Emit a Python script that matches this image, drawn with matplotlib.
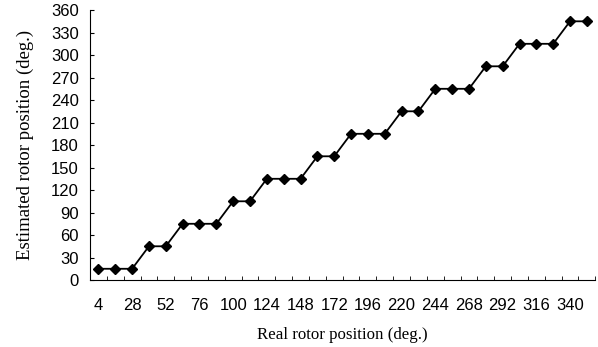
import matplotlib.pyplot as plt
import numpy as np

# Real rotor position categories (deg.) and estimated positions (deg.)
real_pos = [4, 16, 28, 40, 52, 64, 76, 88, 100, 112, 124, 136, 148, 160, 172,
            184, 196, 208, 220, 232, 244, 256, 268, 280, 292, 304, 316, 328, 340, 352]
est_pos = [15, 15, 15, 45, 45, 75, 75, 75, 105, 105, 135, 135, 135, 165, 165,
           195, 195, 195, 225, 225, 255, 255, 255, 285, 285, 315, 315, 315, 345, 345]

fig = plt.figure(figsize=(5.98, 3.47), dpi=100)
ax = fig.add_axes([0.1505, 0.193, 0.845, 0.778])

idx = np.arange(len(real_pos))
ax.plot(idx, est_pos, color="black", linewidth=1.3, marker="D", markersize=5.5)

ax.set_xlim(-0.5, len(real_pos) - 0.5)
ax.set_ylim(0, 360)
ax.set_yticks(np.arange(0, 361, 30))

ax.set_xticks(idx[::2])
ax.set_xticklabels([str(v) for v in real_pos[::2]])
ax.set_xticks(np.arange(-0.5, len(real_pos), 1), minor=True)
ax.tick_params(axis="x", which="major", length=0, pad=13)
ax.tick_params(axis="x", which="minor", direction="in", length=3)
ax.tick_params(axis="y", direction="in", length=3, pad=8)

for lab in ax.get_xticklabels() + ax.get_yticklabels():
    lab.set_fontfamily("Liberation Sans")
    lab.set_fontsize(12)

ax.spines["top"].set_visible(False)
ax.spines["right"].set_visible(False)

ax.set_xlabel("Real rotor position (deg.)", fontfamily="Liberation Serif",
              fontsize=12.2, labelpad=10)
ax.set_ylabel("Estimated rotor position (deg.)", fontfamily="Liberation Serif",
              fontsize=13.5, labelpad=12)

fig.savefig("out.png", dpi=100)
